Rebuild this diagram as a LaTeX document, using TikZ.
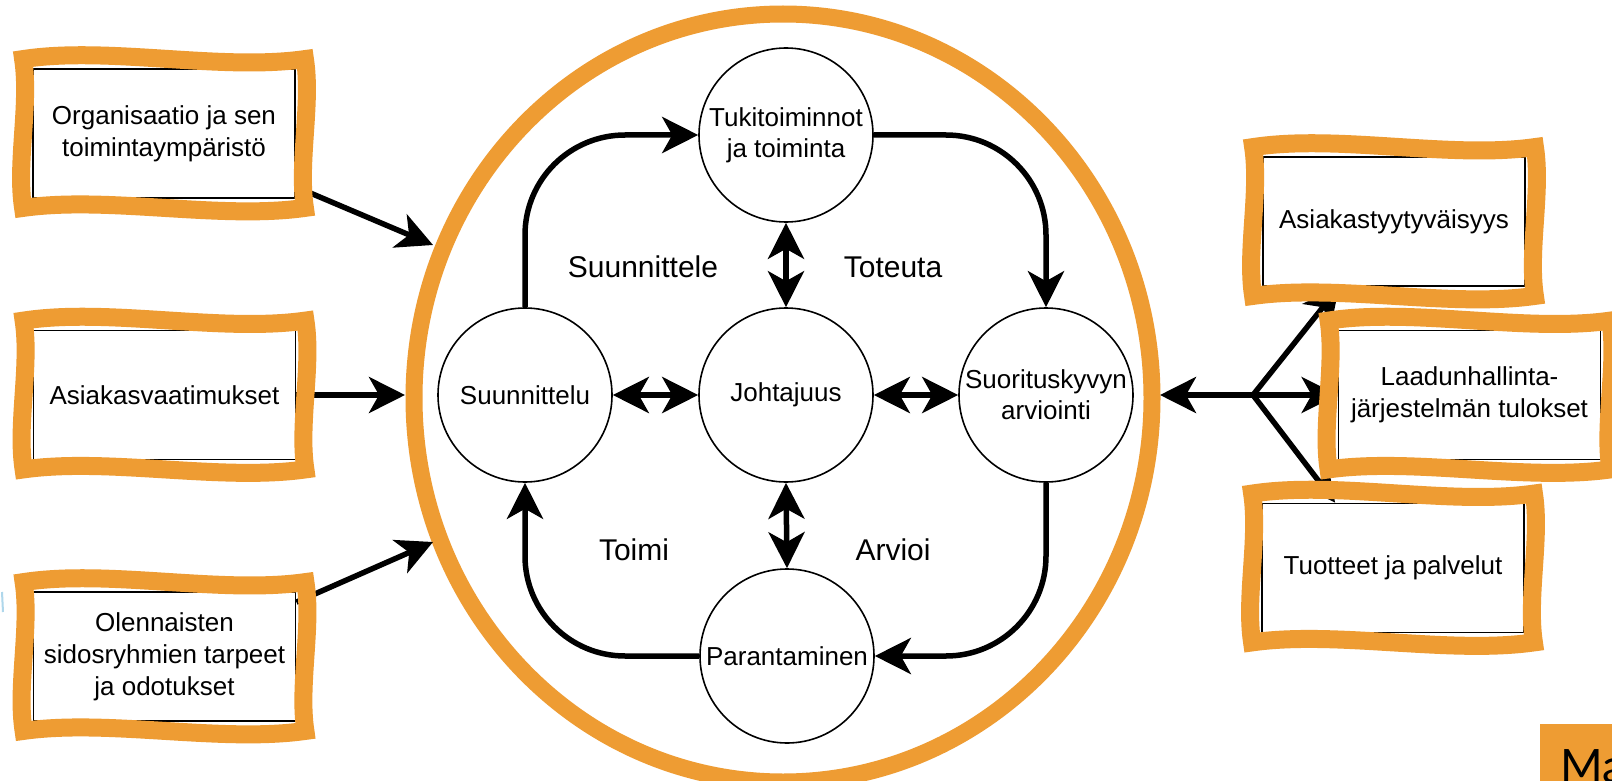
\documentclass[tikz,border=0pt]{standalone}
\usepackage{fontspec}
\setmainfont{Liberation Sans}
\newfontfamily\mafont{Lato}
\usetikzlibrary{arrows.meta,calc}
\definecolor{hlorange}{RGB}{238,156,51}
\definecolor{handlecyan}{RGB}{175,215,235}
\tikzset{
  stage/.style={draw,circle,line width=1.6pt,minimum size=174pt,inner sep=0pt,align=center,font=\fontsize{26}{31}\selectfont},
  infobox/.style={draw,fill=white,line width=1.8pt,minimum width=262pt,minimum height=129pt,inner sep=0pt,align=center,font=\fontsize{26}{32}\selectfont},
  phase/.style={font=\fontsize{30}{36}\selectfont},
  flow/.style={line width=5.5pt,-{Stealth[length=36pt,width=36pt,inset=10pt]}},
  twoway/.style={line width=5.5pt,{Stealth[length=36pt,width=36pt,inset=10pt]}-{Stealth[length=36pt,width=36pt,inset=10pt]}},
  scribble/.style={draw=hlorange,line width=18pt,line join=miter}
}
\begin{document}
\begin{tikzpicture}[x=1pt,y=-1pt]
\useasboundingbox (0,0) rectangle (1612,781);
\clip (0,0) rectangle (1612,781);
\fill[white] (0,0) rectangle (1612,781);
\draw[hlorange,line width=17pt] (783,398) ellipse [x radius=369pt,y radius=384pt];
\draw[handlecyan,line width=2pt] (2,592) -- (3,612);

\node[stage] (tuki) at (786,135) {Tukitoiminnot\\ja toiminta};
\node[stage] (johto) at (786,395) {Johtajuus};
\node[stage] (suun) at (525,395) {Suunnittelu};
\node[stage] (suor) at (1046,395) {Suorituskyvyn\\arviointi};
\node[stage] (paran) at (787,656) {Parantaminen};

\node[phase] (plan) at (643,267) {Suunnittele};
\node[phase] (do) at (893,267) {Toteuta};
\node[phase] (act) at (634,550) {Toimi};
\node[phase] (check) at (893,550) {Arvioi};

\node[infobox] (org) at (164,133.5) {Organisaatio ja sen\\toimintaympäristö};
\node[infobox] (req) at (164.5,395) {Asiakasvaatimukset};
\node[infobox] (stake) at (164.5,656.5) {Olennaisten\\sidosryhmien tarpeet\\ja odotukset};
\node[infobox] (sat) at (1394,221.5) {Asiakastyytyväisyys};
\node[infobox] (qms) at (1469.5,395) {Laadunhallinta-\\järjestelmän tulokset};
\node[infobox] (prod) at (1393,568) {Tuotteet ja palvelut};

\draw[flow,rounded corners=100pt] (suun.north) |- (tuki.west);
\draw[flow,rounded corners=100pt] (tuki.east) -| (suor.north);
\draw[flow,rounded corners=100pt] (suor.south) |- (paran.east);
\draw[flow,rounded corners=100pt] (paran.west) -| (suun.south);
\draw[twoway] (suun.east) -- (johto.west);
\draw[twoway] (johto.east) -- (suor.west);
\draw[twoway] (tuki.south) -- (johto.north);
\draw[twoway] (johto.south) -- (paran.north);

\coordinate (orgin) at (433,245);
\coordinate (reqin) at (405,395);
\coordinate (stakein) at (433,542);
\draw[flow] ([yshift=12pt]org.south east) -- (orgin);
\draw[flow] (req.east) -- (reqin);
\draw[flow] ([yshift=-11pt]stake.north east) -- (stakein);

\coordinate (split) at (1253,395);
\coordinate (resin) at (1160,395);
\draw[flow] (split) -- (resin);
\draw[flow] (split) -- (qms.west);
\draw[flow] (split) -- ([xshift=77pt]sat.south west);
\draw[flow] (split) -- ([xshift=74pt]prod.north west);

\foreach \b in {org,req,stake,sat,qms,prod} {
  \coordinate (nw) at ([shift={(-9,-9)}]\b.north west);
  \coordinate (ne) at ([shift={(9,-9)}]\b.north east);
  \coordinate (se) at ([shift={(9,9)}]\b.south east);
  \coordinate (sw) at ([shift={(-9,9)}]\b.south west);
  \draw[scribble] (nw) .. controls ($(nw)!.3!(ne)+(0,-13)$) and ($(nw)!.7!(ne)+(0,12)$) .. (ne)
    .. controls ($(ne)!.3!(se)+(7,0)$) and ($(ne)!.7!(se)+(-7,0)$) .. (se)
    .. controls ($(se)!.3!(sw)+(0,12)$) and ($(se)!.7!(sw)+(0,-12)$) .. (sw)
    .. controls ($(sw)!.3!(nw)+(-7,0)$) and ($(sw)!.7!(nw)+(7,0)$) .. (nw) -- cycle;
}

\fill[hlorange] (1540,724) rectangle (1640,800);
\node[anchor=base west,inner sep=0pt,font=\mafont\fontsize{46}{50}\selectfont] (ma) at (1560,782) {Ma};
\end{tikzpicture}
\end{document}
